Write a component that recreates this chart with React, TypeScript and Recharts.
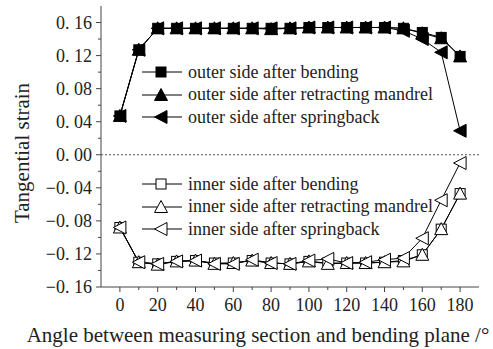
import React from 'react';
import { LineChart, Line, XAxis, YAxis, ReferenceLine } from 'recharts';

const angles = [0, 10, 20, 30, 40, 50, 60, 70, 80, 90, 100, 110, 120, 130, 140, 150, 160, 170, 180];

const outerBending = [0.047, 0.127, 0.153, 0.153, 0.153, 0.153, 0.153, 0.153, 0.153, 0.153, 0.154, 0.154, 0.154, 0.154, 0.154, 0.153, 0.148, 0.142, 0.119];
const outerRetract = [0.047, 0.127, 0.153, 0.153, 0.153, 0.153, 0.153, 0.153, 0.152, 0.153, 0.154, 0.154, 0.154, 0.154, 0.154, 0.153, 0.147, 0.141, 0.119];
const outerSpring = [0.047, 0.127, 0.153, 0.153, 0.153, 0.153, 0.153, 0.153, 0.153, 0.153, 0.154, 0.154, 0.154, 0.154, 0.154, 0.150, 0.140, 0.124, 0.029];

const innerBending = [-0.088, -0.130, -0.132, -0.129, -0.128, -0.131, -0.131, -0.128, -0.131, -0.132, -0.129, -0.131, -0.131, -0.131, -0.130, -0.128, -0.121, -0.090, -0.047];
const innerRetract = [-0.088, -0.130, -0.133, -0.129, -0.128, -0.132, -0.131, -0.128, -0.131, -0.132, -0.129, -0.132, -0.131, -0.131, -0.130, -0.129, -0.121, -0.090, -0.047];
const innerSpring = [-0.088, -0.130, -0.132, -0.129, -0.128, -0.132, -0.132, -0.127, -0.131, -0.132, -0.128, -0.126, -0.131, -0.130, -0.127, -0.125, -0.101, -0.055, -0.010];

const xTicks = [0, 10, 20, 30, 40, 50, 60, 70, 80, 90, 100, 110, 120, 130, 140, 150, 160, 170, 180];
const xLabelled = [0, 20, 40, 60, 80, 100, 120, 140, 160, 180];
const yTicks = [-0.16, -0.14, -0.12, -0.10, -0.08, -0.06, -0.04, -0.02, 0, 0.02, 0.04, 0.06, 0.08, 0.10, 0.12, 0.14, 0.16];
const yLabelled = [-0.16, -0.12, -0.08, -0.04, 0, 0.04, 0.08, 0.12, 0.16];

const outerLabels = ['outer side after bending', 'outer side after retracting mandrel', 'outer side after springback'];
const innerLabels = ['inner side after bending', 'inner side after retracting mandrel', 'inner side after springback'];

const data = angles.map((a, i) => ({
  angle: a,
  ob: outerBending[i],
  or: outerRetract[i],
  os: outerSpring[i],
  ib: innerBending[i],
  ir: innerRetract[i],
  is: innerSpring[i],
}));

const FONT = 'Liberation Serif, DejaVu Serif, serif';
const AXIS = '#444';

type Shape = 'square' | 'up' | 'left';

function Marker({ cx, cy, shape, filled }: { cx: number; cy: number; shape: Shape; filled: boolean }) {
  const fill = filled ? '#000' : '#fff';
  if (shape === 'square') {
    return <rect x={cx - 5} y={cy - 5} width={10} height={10} fill={fill} stroke="#000" strokeWidth={1} />;
  }
  if (shape === 'up') {
    return <polygon points={`${cx},${cy - 6.5} ${cx + 6.5},${cy + 5.5} ${cx - 6.5},${cy + 5.5}`} fill={fill} stroke="#000" strokeWidth={1} />;
  }
  return <polygon points={`${cx - 6.5},${cy} ${cx + 6},${cy - 6.5} ${cx + 6},${cy + 6.5}`} fill={fill} stroke="#000" strokeWidth={1} />;
}

const dot = (shape: Shape, filled: boolean) => (props: any) => {
  const { cx, cy, index } = props;
  if (cx == null || cy == null) return <g key={index} />;
  return <Marker key={index} cx={cx} cy={cy} shape={shape} filled={filled} />;
};

function fmtY(v: number) {
  const s = Math.abs(v).toFixed(2).replace('.', '. ');
  return v < 0 ? '\u2212' + s : s;
}

function XTick(props: any) {
  const { x, y, payload } = props;
  const major = xLabelled.includes(payload.value);
  return (
    <g>
      <line x1={x} y1={y} x2={x} y2={y + (major ? 5 : 3)} stroke={AXIS} />
      {major && (
        <text x={x} y={y + 24} textAnchor="middle" fontSize={18} fontFamily={FONT} fill="#222">
          {payload.value}
        </text>
      )}
    </g>
  );
}

function YTick(props: any) {
  const { x, y, payload } = props;
  const v = Math.round(payload.value * 100) / 100;
  const major = yLabelled.some((t) => Math.abs(t - v) < 1e-6);
  return (
    <g>
      <line x1={x - (major ? 5 : 3)} y1={y} x2={x} y2={y} stroke={AXIS} />
      {major && (
        <text x={x - 9} y={y + 6} textAnchor="end" fontSize={18} fontFamily={FONT} fill="#222">
          {fmtY(v)}
        </text>
      )}
    </g>
  );
}

function LegendBlock({ top, labels, filled }: { top: number; labels: string[]; filled: boolean }) {
  const shapes: Shape[] = ['square', 'up', 'left'];
  return (
    <div style={{ position: 'absolute', left: 140, top, fontFamily: FONT, fontSize: 18, color: '#222' }}>
      {labels.map((l, i) => (
        <div key={l} style={{ display: 'flex', alignItems: 'center', height: 22.5, whiteSpace: 'nowrap' }}>
          <svg width={46} height={16} style={{ overflow: 'visible' }}>
            <line x1={2} y1={8} x2={42} y2={8} stroke="#000" />
            <Marker cx={21} cy={8} shape={shapes[i]} filled={filled} />
          </svg>
          <span style={{ marginLeft: 2 }}>{l}</span>
        </div>
      ))}
    </div>
  );
}

export default function App() {
  return (
    <div style={{ position: 'absolute', left: 0, top: 0, width: 493, height: 349, background: '#fff' }}>
      <LineChart width={493} height={349} data={data} margin={{ top: 6, right: 14, bottom: 2, left: 41 }}>
        <XAxis
          dataKey="angle"
          type="number"
          domain={[-10, 190]}
          ticks={xTicks}
          interval={0}
          tick={<XTick />}
          tickSize={0}
          tickMargin={0}
          tickLine={false}
          axisLine={{ stroke: AXIS }}
          height={60}
        />
        <XAxis xAxisId="top" orientation="top" dataKey="angle" type="number" domain={[-10, 190]} tick={false} tickLine={false} axisLine={{ stroke: AXIS }} height={0} />
        <YAxis
          type="number"
          domain={[-0.16, 0.18]}
          ticks={yTicks}
          interval={0}
          tick={<YTick />}
          tickSize={0}
          tickMargin={0}
          tickLine={false}
          axisLine={{ stroke: AXIS }}
          width={60}
        />
        <YAxis yAxisId="right" orientation="right" type="number" domain={[-0.16, 0.18]} tick={false} tickLine={false} axisLine={{ stroke: AXIS }} width={0} />
        <ReferenceLine y={0} stroke="#555" strokeDasharray="2 2" />
        <Line dataKey="ob" stroke="#000" strokeWidth={1} dot={dot('square', true)} isAnimationActive={false} />
        <Line dataKey="or" stroke="#000" strokeWidth={1} dot={dot('up', true)} isAnimationActive={false} />
        <Line dataKey="os" stroke="#000" strokeWidth={1} dot={dot('left', true)} isAnimationActive={false} />
        <Line dataKey="ib" stroke="#000" strokeWidth={1} dot={dot('square', false)} isAnimationActive={false} />
        <Line dataKey="ir" stroke="#000" strokeWidth={1} dot={dot('up', false)} isAnimationActive={false} />
        <Line dataKey="is" stroke="#000" strokeWidth={1} dot={dot('left', false)} isAnimationActive={false} />
      </LineChart>
      <LegendBlock top={61} labels={outerLabels} filled={true} />
      <LegendBlock top={173} labels={innerLabels} filled={false} />
      <div
        style={{
          position: 'absolute',
          left: 22,
          top: 153,
          transform: 'translate(-50%, -50%) rotate(-90deg)',
          fontFamily: FONT,
          fontSize: 21,
          color: '#222',
          whiteSpace: 'nowrap',
        }}
      >
        Tangential strain
      </div>
      <div
        style={{
          position: 'absolute',
          left: 258,
          top: 335,
          transform: 'translate(-50%, -50%)',
          fontFamily: FONT,
          fontSize: 21,
          color: '#222',
          whiteSpace: 'nowrap',
        }}
      >
        Angle between measuring section and bending plane /°
      </div>
    </div>
  );
}
